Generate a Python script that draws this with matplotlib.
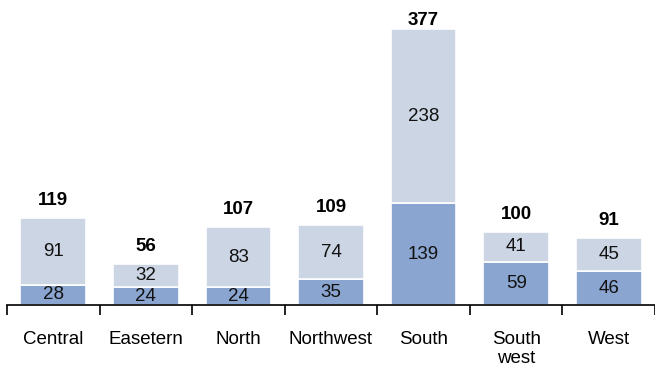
import numpy as np
import matplotlib.pyplot as plt
from matplotlib.ticker import FixedLocator, NullFormatter

plt.rcParams['font.family'] = ['Liberation Sans', 'DejaVu Sans']

regions = ["Central", "Easetern", "North", "Northwest", "South", "South\nwest", "West"]
lower = [28, 24, 24, 35, 139, 59, 46]
upper = [91, 32, 83, 74, 238, 41, 45]

dark_blue = '#8aa5cf'
light_blue = '#cbd5e3'

x = np.arange(len(regions))
totals = [a + b for a, b in zip(lower, upper)]

fig = plt.figure(figsize=(6.55, 3.69), dpi=100)
ax = fig.add_axes([7 / 655, 64 / 369, 648 / 655, 305 / 369])

y_top = 416.6
ax.bar(x, lower, width=0.71, color=dark_blue, edgecolor='white', linewidth=1.2)
ax.bar(x, upper, width=0.71, bottom=lower, color=light_blue, edgecolor='white', linewidth=1.2)

# total labels sit a fixed gap above the bar, pushed down if they would leave the plot area
label_gap = 17.8
label_max = y_top - 34
for xi, lo, up, tot in zip(x, lower, upper, totals):
    ax.text(xi, lo / 2, str(lo), ha='center', va='center', fontsize=13.5, color='#111111')
    ax.text(xi, lo + up / 2, str(up), ha='center', va='center', fontsize=13.5, color='#111111')
    ax.text(xi, min(tot + label_gap, label_max), str(tot), ha='center', va='baseline',
            fontsize=13.5, fontweight='bold')

ax.set_xlim(-0.5, len(regions) - 0.5)
ax.set_ylim(0, y_top)

for side in ['top', 'right', 'left']:
    ax.spines[side].set_visible(False)
ax.spines['bottom'].set_linewidth(1.2)
ax.set_yticks([])

ax.set_xticks(x)
ax.set_xticklabels(regions, fontsize=13.5, linespacing=1.1)
ax.tick_params(axis='x', which='major', length=0, pad=19)
ax.xaxis.set_minor_locator(FixedLocator(np.arange(-0.5, len(regions), 1.0)))
ax.xaxis.set_minor_formatter(NullFormatter())
ax.tick_params(axis='x', which='minor', length=7, width=1.2, direction='out')

fig.savefig('out.png', dpi=100)
